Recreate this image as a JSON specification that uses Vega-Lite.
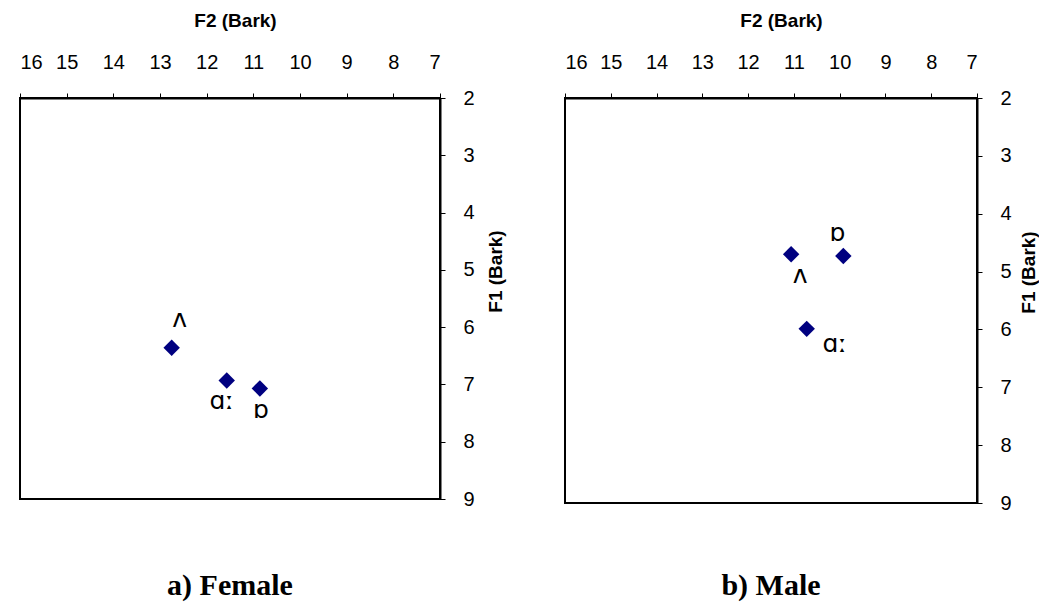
{
  "$schema": "https://vega.github.io/schema/vega-lite/v6.json",
  "background": "white",
  "padding": {"left": 18, "top": 10, "right": 0, "bottom": 0},
  "spacing": 57,
  "data": {
    "values": [
      {"speaker": "Female", "vowel": "ʌ", "F2": 12.75, "F1": 6.36},
      {"speaker": "Female", "vowel": "ɑː", "F2": 11.57, "F1": 6.93},
      {"speaker": "Female", "vowel": "ɒ", "F2": 10.86, "F1": 7.07},
      {"speaker": "Male", "vowel": "ʌ", "F2": 11.06, "F1": 4.70},
      {"speaker": "Male", "vowel": "ɒ", "F2": 9.92, "F1": 4.73},
      {"speaker": "Male", "vowel": "ɑː", "F2": 10.72, "F1": 5.99}
    ]
  },
  "config": {
    "view": {"stroke": "black", "strokeWidth": 2},
    "axis": {
      "grid": false,
      "domainColor": "black",
      "domainWidth": 2,
      "tickColor": "black",
      "tickWidth": 1,
      "tickSize": 5,
      "labelFont": "Liberation Sans",
      "labelFontSize": 20,
      "labelColor": "black",
      "titleFont": "Liberation Sans",
      "titleFontSize": 19,
      "titleFontWeight": "bold",
      "titleColor": "black"
    },
    "title": {
      "font": "Liberation Serif",
      "fontSize": 30,
      "fontWeight": "bold",
      "color": "black"
    }
  },
  "hconcat": [
    {
      "width": 420,
      "height": 401,
      "title": {"text": "a) Female", "orient": "bottom", "anchor": "middle", "frame": "group", "baseline": "alphabetic", "offset": 86},
      "transform": [{"filter": "datum.speaker === 'Female'"}],
      "encoding": {
        "x": {"field": "F2", "type": "quantitative", "scale": {"domain": [7, 16], "reverse": true, "nice": false, "zero": false},
          "axis": {"orient": "top", "title": "F2 (Bark)", "values": [7,8,9,10,11,12,13,14,15,16], "labelPadding": 21, "titleX": 215, "titleY": -78, "titleBaseline": "middle"}},
        "y": {"field": "F1", "type": "quantitative", "scale": {"domain": [2, 9], "reverse": true, "nice": false, "zero": false},
          "axis": {"orient": "right", "title": "F1 (Bark)", "values": [2,3,4,5,6,7,8,9], "labelPadding": 18, "titleAngle": 270, "titleX": 55, "titleY": 173, "titleBaseline": "middle", "titleAlign": "center"}}
      },
      "layer": [
        {"mark": {"type": "point", "shape": "diamond", "filled": true, "color": "#000080", "opacity": 1, "size": 270}},
        {"transform": [{"filter": "datum.vowel === 'ʌ'"}], "mark": {"type": "text", "font": "DejaVu Sans", "fontSize": 25, "color": "black", "baseline": "alphabetic", "dx": 8, "dy": -21}, "encoding": {"text": {"field": "vowel"}}},
        {"transform": [{"filter": "datum.vowel === 'ɑː'"}], "mark": {"type": "text", "font": "DejaVu Sans", "fontSize": 25, "color": "black", "baseline": "alphabetic", "dx": -5, "dy": 29}, "encoding": {"text": {"field": "vowel"}}},
        {"transform": [{"filter": "datum.vowel === 'ɒ'"}], "mark": {"type": "text", "font": "DejaVu Sans", "fontSize": 25, "color": "black", "baseline": "alphabetic", "dx": 1, "dy": 30}, "encoding": {"text": {"field": "vowel"}}}
      ]
    },
    {
      "width": 412,
      "height": 405,
      "title": {"text": "b) Male", "orient": "bottom", "anchor": "middle", "frame": "group", "baseline": "alphabetic", "offset": 82},
      "transform": [{"filter": "datum.speaker === 'Male'"}],
      "encoding": {
        "x": {"field": "F2", "type": "quantitative", "scale": {"domain": [7, 16], "reverse": true, "nice": false, "zero": false},
          "axis": {"orient": "top", "title": "F2 (Bark)", "values": [7,8,9,10,11,12,13,14,15,16], "labelPadding": 21, "titleX": 216, "titleY": -78, "titleBaseline": "middle"}},
        "y": {"field": "F1", "type": "quantitative", "scale": {"domain": [2, 9], "reverse": true, "nice": false, "zero": false},
          "axis": {"orient": "right", "title": "F1 (Bark)", "values": [2,3,4,5,6,7,8,9], "labelPadding": 18, "titleAngle": 270, "titleX": 51, "titleY": 174, "titleBaseline": "middle", "titleAlign": "center"}}
      },
      "layer": [
        {"mark": {"type": "point", "shape": "diamond", "filled": true, "color": "#000080", "opacity": 1, "size": 270}},
        {"transform": [{"filter": "datum.vowel === 'ʌ'"}], "mark": {"type": "text", "font": "DejaVu Sans", "fontSize": 25, "color": "black", "baseline": "alphabetic", "dx": 9, "dy": 29}, "encoding": {"text": {"field": "vowel"}}},
        {"transform": [{"filter": "datum.vowel === 'ɑː'"}], "mark": {"type": "text", "font": "DejaVu Sans", "fontSize": 25, "color": "black", "baseline": "alphabetic", "dx": 28, "dy": 23}, "encoding": {"text": {"field": "vowel"}}},
        {"transform": [{"filter": "datum.vowel === 'ɒ'"}], "mark": {"type": "text", "font": "DejaVu Sans", "fontSize": 25, "color": "black", "baseline": "alphabetic", "dx": -6, "dy": -15}, "encoding": {"text": {"field": "vowel"}}}
      ]
    }
  ]
}
